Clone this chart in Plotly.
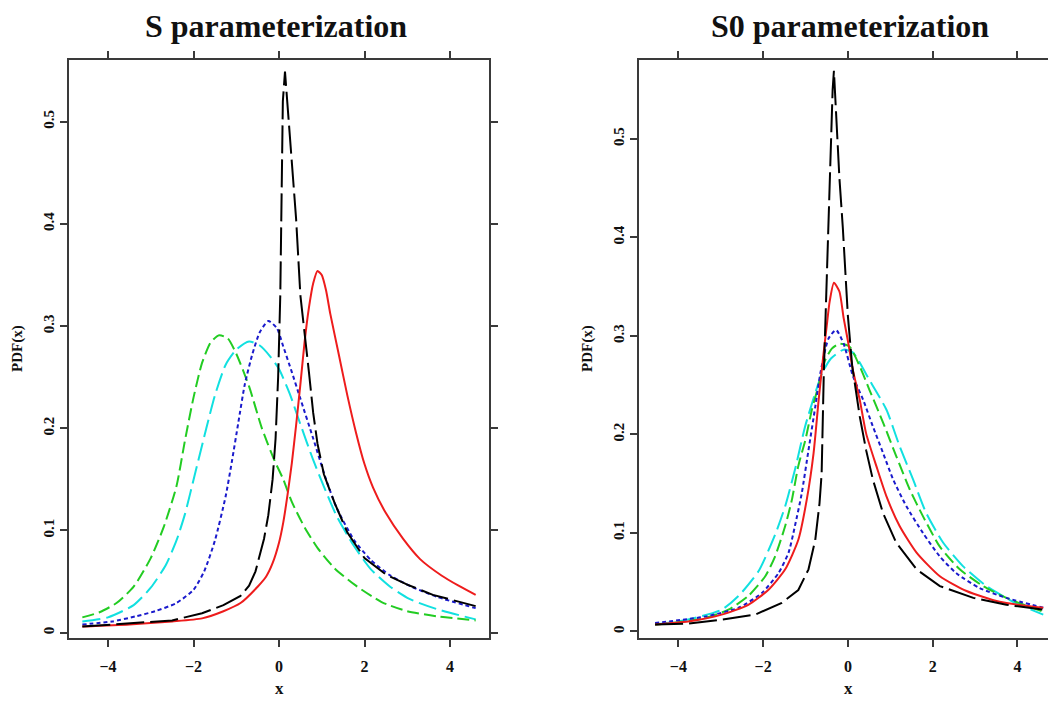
import plotly.graph_objects as go

# Stable densities, S parameterization (left panel)
s_black_x = [-4.6, -3.5, -2.5, -1.8, -1.3, -0.9, -0.7, -0.55, -0.45, -0.35, -0.25, -0.15, -0.08, -0.02, 0.03,
             0.06, 0.09, 0.14, 0.2, 0.3, 0.4, 0.5, 0.6, 0.7, 0.8, 0.9, 1.05, 1.3, 1.6, 2.0, 2.5, 3.0, 3.6, 4.6]
s_black_y = [0.006, 0.009, 0.012, 0.019, 0.027, 0.036, 0.046, 0.060, 0.075, 0.092, 0.115, 0.150, 0.190, 0.250,
             0.330, 0.430, 0.520, 0.549, 0.515, 0.462, 0.405, 0.330, 0.295, 0.255, 0.215, 0.185, 0.155,
             0.127, 0.098, 0.073, 0.057, 0.047, 0.037, 0.026]

s_red_x = [-4.6, -3.5, -2.5, -1.8, -1.3, -0.9, -0.5, -0.3, -0.15, 0.0, 0.1, 0.2, 0.3, 0.4, 0.5, 0.6, 0.7,
           0.8, 0.9, 1.0, 1.1, 1.2, 1.4, 1.6, 1.8, 2.0, 2.2, 2.5, 2.9, 3.3, 3.8, 4.2, 4.6]
s_red_y = [0.006, 0.008, 0.011, 0.014, 0.021, 0.029, 0.045, 0.055, 0.068, 0.088, 0.108, 0.135, 0.166, 0.203,
           0.243, 0.285, 0.318, 0.342, 0.354, 0.350, 0.335, 0.312, 0.272, 0.232, 0.196, 0.165, 0.142,
           0.117, 0.092, 0.072, 0.056, 0.046, 0.037]

s_blue_x = [-4.6, -3.9, -3.35, -2.9, -2.4, -2.0, -1.75, -1.5, -1.25, -1.1, -0.95, -0.8, -0.62, -0.45, -0.25,
            -0.05, 0.1, 0.3, 0.5, 0.8, 1.1, 1.35, 1.75, 2.15, 2.6, 3.1, 3.7, 4.6]
s_blue_y = [0.008, 0.011, 0.016, 0.021, 0.029, 0.042, 0.060, 0.090, 0.133, 0.168, 0.206, 0.243, 0.273, 0.294,
            0.305, 0.298, 0.280, 0.255, 0.229, 0.190, 0.150, 0.122, 0.091, 0.071, 0.056, 0.045, 0.035, 0.024]

s_green_x = [-4.6, -4.2, -3.8, -3.4, -3.0, -2.7, -2.4, -2.2, -2.0, -1.8, -1.6, -1.4, -1.2, -1.0, -0.7,
             -0.4, -0.1, 0.1, 0.3, 0.6, 0.9, 1.3, 1.8, 2.4, 3.0, 3.7, 4.6]
s_green_y = [0.015, 0.020, 0.029, 0.045, 0.073, 0.103, 0.143, 0.188, 0.230, 0.264, 0.284, 0.291, 0.288,
             0.273, 0.241, 0.200, 0.168, 0.150, 0.128, 0.103, 0.083, 0.063, 0.046, 0.030, 0.021, 0.016, 0.012]

s_cyan_x = [-4.6, -4.0, -3.4, -3.0, -2.65, -2.4, -2.2, -1.95, -1.7, -1.5, -1.25, -1.0, -0.7, -0.45, -0.2,
            0.0, 0.25, 0.5, 0.8, 1.05, 1.35, 1.75, 2.15, 2.6, 3.05, 3.7, 4.6]
s_cyan_y = [0.011, 0.015, 0.027, 0.044, 0.066, 0.090, 0.116, 0.158, 0.200, 0.232, 0.262, 0.277, 0.285,
            0.281, 0.270, 0.258, 0.234, 0.204, 0.169, 0.143, 0.114, 0.085, 0.062, 0.045, 0.033, 0.023, 0.013]

# S0 parameterization (right panel)
s0_black_x = [-4.55, -3.77, -2.98, -2.19, -1.56, -1.17, -0.93, -0.77, -0.67, -0.62, -0.57, -0.5, -0.45, -0.4,
              -0.36, -0.33, -0.27, -0.2, -0.12, -0.07, 0.0, 0.1, 0.28, 0.43, 0.59, 0.83, 1.14, 1.62, 2.17,
              2.96, 3.74, 4.61]
s0_black_y = [0.007, 0.008, 0.012, 0.017, 0.029, 0.042, 0.063, 0.093, 0.130, 0.160, 0.260, 0.360, 0.440, 0.500,
              0.550, 0.569, 0.520, 0.460, 0.410, 0.370, 0.320, 0.270, 0.218, 0.184, 0.154, 0.120, 0.090,
              0.063, 0.046, 0.034, 0.027, 0.022]

s0_red_x = [-4.55, -3.77, -2.98, -2.35, -1.88, -1.48, -1.17, -0.97, -0.81, -0.69, -0.58, -0.5, -0.43, -0.33,
            -0.2, -0.1, 0.0, 0.12, 0.28, 0.43, 0.67, 0.91, 1.22, 1.62, 2.17, 2.8, 3.58, 4.61]
s0_red_y = [0.007, 0.010, 0.017, 0.027, 0.042, 0.063, 0.093, 0.134, 0.181, 0.235, 0.280, 0.310, 0.335, 0.354,
            0.345, 0.318, 0.295, 0.265, 0.235, 0.201, 0.168, 0.137, 0.107, 0.080, 0.056, 0.041, 0.030, 0.024]

s0_blue_x = [-4.55, -3.37, -2.58, -2.03, -1.64, -1.4, -1.25, -1.09, -0.93, -0.77, -0.65, -0.46, -0.28, -0.1,
             0.12, 0.36, 0.59, 0.83, 1.07, 1.38, 1.77, 2.17, 2.56, 3.11, 3.74, 4.61]
s0_blue_y = [0.0085, 0.015, 0.024, 0.039, 0.059, 0.080, 0.107, 0.140, 0.184, 0.228, 0.262, 0.297, 0.306, 0.292,
             0.259, 0.235, 0.208, 0.181, 0.154, 0.127, 0.100, 0.076, 0.059, 0.044, 0.034, 0.024]

s0_green_x = [-4.55, -4.16, -3.37, -2.82, -2.35, -1.95, -1.72, -1.48, -1.32, -1.17, -1.0, -0.85, -0.69, -0.54,
              -0.38, -0.2, 0.04, 0.28, 0.51, 0.83, 1.14, 1.46, 1.77, 2.17, 2.64, 3.19, 3.74, 4.61]
s0_green_y = [0.007, 0.0085, 0.0135, 0.022, 0.036, 0.056, 0.076, 0.107, 0.134, 0.168, 0.195, 0.225, 0.250,
              0.275, 0.287, 0.292, 0.289, 0.269, 0.245, 0.212, 0.178, 0.144, 0.117, 0.086, 0.063, 0.046,
              0.034, 0.020]

s0_cyan_x = [-4.55, -3.77, -2.98, -2.58, -2.11, -1.72, -1.48, -1.25, -1.01, -0.77, -0.61, -0.4, -0.1, 0.12,
             0.51, 0.91, 1.22, 1.54, 1.85, 2.25, 2.72, 3.27, 3.9, 4.61]
s0_cyan_y = [0.007, 0.012, 0.022, 0.036, 0.061, 0.098, 0.127, 0.164, 0.208, 0.242, 0.262, 0.277, 0.286, 0.283,
             0.255, 0.225, 0.188, 0.154, 0.120, 0.090, 0.066, 0.046, 0.030, 0.017]

x_ticks = [-4, -2, 0, 2, 4]
y_ticks = [0, 0.1, 0.2, 0.3, 0.4, 0.5]
y_ticktext = ["0", "0.1", "0.2", "0.3", "0.4", "0.5"]

W, H = 1056, 706
OFF = 8  # the page body adds an 8px margin round the figure
SERIF = "Liberation Serif, Times New Roman, serif"
AXIS_COL = "#3a3a3a"


def fx(px):
    return (px - OFF) / W


def fy(py):
    return 1 - (py - OFF) / H


# colour + dash per curve
styles = {
    "black": ("#000000", "28px,6px"),
    "red": ("#ee1c1c", "solid"),
    "blue": ("#1a1acc", "4px,3px"),
    "green": ("#22cc22", "12px,5px"),
    "cyan": ("#11e0e0", "18px,6px"),
}

panels = [
    ("x", "y", {"black": (s_black_x, s_black_y), "red": (s_red_x, s_red_y), "blue": (s_blue_x, s_blue_y),
                "green": (s_green_x, s_green_y), "cyan": (s_cyan_x, s_cyan_y)}),
    ("x2", "y2", {"black": (s0_black_x, s0_black_y), "red": (s0_red_x, s0_red_y),
                  "blue": (s0_blue_x, s0_blue_y), "green": (s0_green_x, s0_green_y),
                  "cyan": (s0_cyan_x, s0_cyan_y)}),
]

fig = go.Figure()
for xa, ya, curves in panels:
    for name in ["cyan", "green", "blue", "red", "black"]:
        xs, ys = curves[name]
        color, dash = styles[name]
        fig.add_trace(go.Scatter(
            x=xs, y=ys, xaxis=xa, yaxis=ya, mode="lines",
            line=dict(color=color, width=2, dash=dash,
                      shape="linear" if name == "black" else "spline", smoothing=0.6),
            showlegend=False, hoverinfo="skip",
        ))


def x_axis(domain, rng, anchor):
    return dict(domain=domain, range=rng, anchor=anchor, tickvals=x_ticks,
                ticks="outside", ticklen=7, tickwidth=2, tickcolor=AXIS_COL,
                showline=True, linecolor=AXIS_COL, linewidth=2, mirror="allticks",
                showgrid=False, zeroline=False, automargin=False, ticklabelstandoff=6,
                tickfont=dict(family=SERIF, size=16, color="#111", weight="bold"))


def y_axis(domain, rng, anchor):
    return dict(domain=domain, range=rng, anchor=anchor, tickvals=y_ticks, ticktext=y_ticktext,
                tickangle=-90, ticks="outside", ticklen=7, tickwidth=2, tickcolor=AXIS_COL,
                showline=True, linecolor=AXIS_COL, linewidth=2, mirror="allticks",
                showgrid=False, zeroline=False, automargin=False,
                tickfont=dict(family=SERIF, size=15, color="#111", weight="bold"))


y_dom = [fy(638), fy(60)]
fig.update_layout(
    width=W, height=H,
    margin=dict(l=0, r=0, t=0, b=0),
    paper_bgcolor="white", plot_bgcolor="white",
    xaxis=x_axis([fx(69), fx(489)], [-4.912, 4.912], "y"),
    yaxis=y_axis(y_dom, [-0.0052, 0.5604], "x"),
    xaxis2=x_axis([fx(639), 1.0], [-4.93, 5.10], "y2"),
    yaxis2=y_axis(y_dom, [-0.0067, 0.580], "x2"),
)

# titles and axis labels (page pixels)
text_items = [
    ("S parameterization", 276, 26, 32, 0),
    ("S0 parameterization", 850, 26, 32, 0),
    ("x", 279, 688, 17, 0),
    ("x", 848, 688, 17, 0),
    ("PDF(x)", 18, 349, 15, -90),
    ("PDF(x)", 588, 349, 15, -90),
]
for txt, px, py, size, angle in text_items:
    fig.add_annotation(
        text=txt, xref="paper", yref="paper", x=fx(px), y=fy(py),
        xanchor="center", yanchor="middle", showarrow=False, textangle=angle,
        font=dict(family=SERIF, size=size, color="#111", weight="bold"),
    )

fig.write_html("out.html")
